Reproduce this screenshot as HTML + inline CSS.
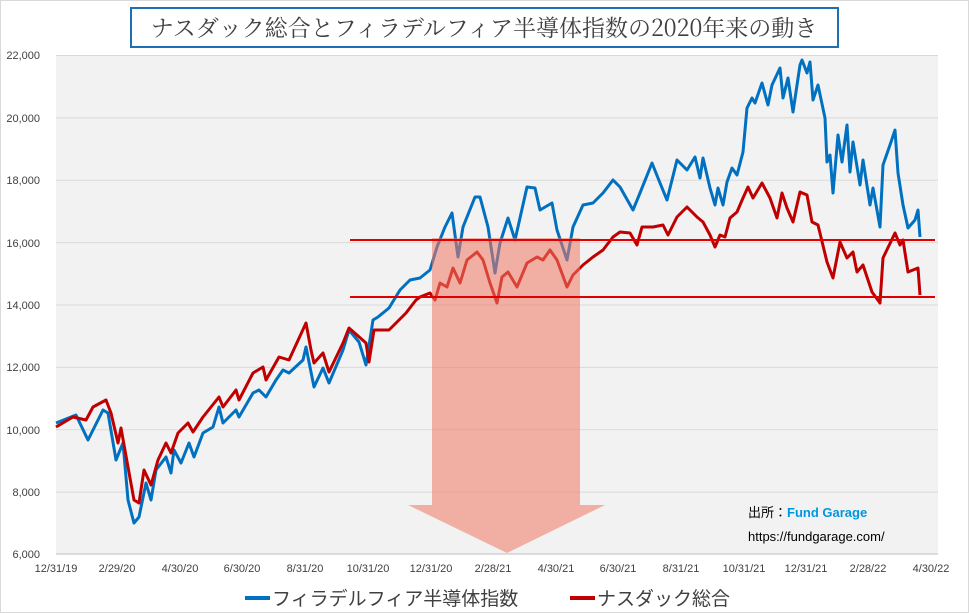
<!DOCTYPE html>
<html><head><meta charset="utf-8"><style>
body{margin:0;background:#fff;}
svg{display:block;font-family:"Liberation Sans","Noto Sans CJK JP",sans-serif;}
</style></head><body>
<svg width="969" height="613" viewBox="0 0 969 613" xmlns="http://www.w3.org/2000/svg">
<rect x="0.5" y="0.5" width="968" height="612" fill="#fff" stroke="#d9d9d9"/>
<rect x="131" y="8" width="707" height="39" fill="#fff" stroke="#1f6fb4" stroke-width="2"/>
<text x="484" y="36" font-size="23" text-anchor="middle" fill="#404040" font-family="'Noto Serif CJK SC','Liberation Serif',serif">ナスダック総合とフィラデルフィア半導体指数の2020年来の動き</text>
<rect x="56" y="55" width="882" height="499" fill="#f2f2f2"/>
<g stroke="#d9d9d9" stroke-width="1">
<line x1="56" y1="55.5" x2="938" y2="55.5"/><line x1="56" y1="117.9" x2="938" y2="117.9"/><line x1="56" y1="180.3" x2="938" y2="180.3"/><line x1="56" y1="242.6" x2="938" y2="242.6"/><line x1="56" y1="305" x2="938" y2="305"/><line x1="56" y1="367.4" x2="938" y2="367.4"/><line x1="56" y1="429.8" x2="938" y2="429.8"/><line x1="56" y1="492.1" x2="938" y2="492.1"/><line x1="56" y1="554" x2="938" y2="554" stroke="#bfbfbf"/>
</g>
<g font-size="11" fill="#404040" text-anchor="end">
<text x="40" y="59">22,000</text><text x="40" y="122">20,000</text><text x="40" y="184">18,000</text><text x="40" y="247">16,000</text><text x="40" y="309">14,000</text><text x="40" y="371">12,000</text><text x="40" y="434">10,000</text><text x="40" y="496">8,000</text><text x="40" y="558">6,000</text>
</g>
<g font-size="11" fill="#404040" text-anchor="middle">
<text x="56" y="572">12/31/19</text><text x="117" y="572">2/29/20</text><text x="180" y="572">4/30/20</text><text x="242" y="572">6/30/20</text><text x="305" y="572">8/31/20</text><text x="368" y="572">10/31/20</text><text x="431" y="572">12/31/20</text><text x="493" y="572">2/28/21</text><text x="556" y="572">4/30/21</text><text x="618" y="572">6/30/21</text><text x="681" y="572">8/31/21</text><text x="744" y="572">10/31/21</text><text x="806" y="572">12/31/21</text><text x="868" y="572">2/28/22</text><text x="931" y="572">4/30/22</text>
</g>
<polyline fill="none" stroke="#0070c0" stroke-width="3" stroke-linejoin="round" points="56,423 76,415 88,440 103,410 108,413 116,460 123,443 128,500 134,523 139,517 146,483 151,500 156,470 166,457 171,473 174,450 181,463 189,443 194,457 203,433 213,427 219,407 223,423 236,410 239,417 253,393 259,390 266,397 276,380 283,370 289,373 303,360 306,347 314,387 323,368 329,383 343,350 349,330 359,342 366,365 373,320 378,317 389,308 400,290 410,280 420,278 430,270 437,247 445,227 452,213 458,257 463,227 475,197 480,197 488,227 495,273 500,243 508,218 515,240 520,218 527,187 535,188 540,210 552,203 557,230 567,260 573,227 583,205 593,203 603,193 613,180 620,187 633,210 640,193 652,163 660,183 667,200 677,160 687,170 695,157 700,178 703,158 710,188 715,205 718,188 723,205 727,182 732,168 737,175 743,152 747,108 752,98 755,103 762,83 768,105 772,85 780,68 783,98 788,78 793,112 800,65 802,60 807,73 810,62 813,100 818,85 825,118 827,162 830,155 833,193 838,135 842,162 847,125 850,172 853,142 860,185 863,160 870,205 873,188 880,227 883,165 890,145 895,130 898,173 903,205 908,228 915,220 918,210 920,237"/>
<polyline fill="none" stroke="#c00000" stroke-width="3" stroke-linejoin="round" points="56,427 73,417 86,420 93,407 106,400 111,413 118,443 121,428 128,467 134,500 139,503 144,470 151,485 158,460 166,443 171,453 178,433 188,423 193,432 203,417 219,397 223,407 236,390 239,400 253,373 263,367 266,380 279,357 289,360 306,323 311,350 314,363 323,353 329,372 343,343 349,328 366,343 369,362 374,330 389,330 406,313 416,300 420,297 430,293 435,300 440,283 447,287 453,268 460,283 467,260 477,252 483,260 490,283 497,303 502,277 508,272 517,287 527,263 537,257 543,260 550,250 557,260 567,287 573,275 583,265 593,257 603,250 613,237 620,232 630,233 637,245 642,227 653,227 663,225 668,235 677,217 687,207 697,217 703,222 710,235 715,247 720,235 725,237 730,218 737,212 743,198 748,187 753,198 762,183 770,198 777,218 782,193 787,208 793,222 800,192 807,195 812,222 818,225 827,262 833,278 840,242 847,258 853,252 857,272 863,265 872,292 880,303 883,258 895,233 900,245 903,240 908,272 918,268 920,295"/>
<path d="M432,238 H580 V505 H605 L507,553 L408,505 H432 Z" fill="rgba(240,120,100,0.55)"/>
<line x1="350" y1="240" x2="935" y2="240" stroke="#e00000" stroke-width="2"/>
<line x1="350" y1="297" x2="935" y2="297" stroke="#e00000" stroke-width="2"/>
<text x="748" y="517" font-size="13" fill="#000">出所：<tspan fill="#0096e0" font-weight="bold">Fund Garage</tspan></text>
<text x="748" y="541" font-size="13" fill="#000">https://fundgarage.com/</text>
<line x1="245" y1="598" x2="270" y2="598" stroke="#0070c0" stroke-width="4"/>
<text x="272" y="605" font-size="19" fill="#404040">フィラデルフィア半導体指数</text>
<line x1="570" y1="598" x2="595" y2="598" stroke="#c00000" stroke-width="4"/>
<text x="597" y="605" font-size="19" fill="#404040">ナスダック総合</text>
</svg>
</body></html>
